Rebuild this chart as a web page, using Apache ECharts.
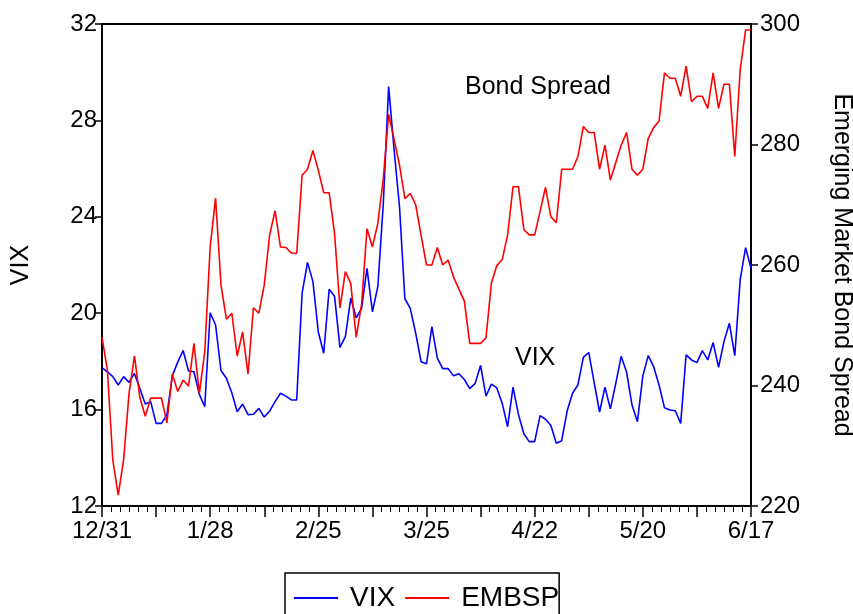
<!DOCTYPE html>
<html>
<head>
<meta charset="utf-8">
<script src="https://cdn.jsdelivr.net/npm/echarts@6/dist/echarts.min.js"></script>
<style>
  html, body { margin: 0; padding: 0; background: #fff; }
  #chart { width: 853px; height: 614px; }
</style>
</head>
<body>
<div id="chart"></div>
<script>
// x tick labels, one every 20 trading days
var tickLabels = ['12/31', '1/28', '2/25', '3/25', '4/22', '5/20', '6/17'];

// VIX, daily (left axis)
var vix = [
  17.74, 17.57, 17.37, 17.02, 17.37, 17.13, 17.5, 16.88, 16.23, 16.33,
  15.43, 15.43, 15.78, 17.4, 17.97, 18.45, 17.6, 17.57, 16.63, 16.12,
  20.02, 19.51, 17.62, 17.3, 16.7, 15.91, 16.23, 15.79, 15.81, 16.05,
  15.69, 15.94, 16.33, 16.68, 16.56, 16.4, 16.4, 20.83, 22.11, 21.31,
  19.21, 18.34, 20.99, 20.7, 18.58, 19.03, 20.63, 19.81, 20.2, 21.86,
  20.06, 21.1, 24.5, 29.4, 26.8, 24.45, 20.6, 20.2, 19.17, 17.99,
  17.9, 19.44, 18.14, 17.7, 17.7, 17.4, 17.49, 17.25, 16.87, 17.09,
  17.83, 16.56, 17.06, 16.9, 16.26, 15.29, 16.93, 15.8, 15.0, 14.67,
  14.67, 15.75, 15.6, 15.34, 14.6, 14.71, 15.94, 16.68, 17.03, 18.17,
  18.37, 17.12, 15.9, 16.93, 16.03, 17.09, 18.21, 17.55, 16.19, 15.5,
  17.4, 18.24, 17.78, 17.02, 16.08, 15.98, 15.95, 15.43, 18.27, 18.06,
  17.95, 18.45, 18.06, 18.78, 17.75, 18.82, 19.58, 18.24, 21.38, 22.72,
  21.86
];

// emerging market bond spread, daily (right axis)
var embsp = [
  248.0, 242.5, 227.6, 221.8, 227.7, 238.7, 244.9, 238.0, 234.9, 237.9,
  237.9, 237.9, 233.8, 241.9, 239.0, 240.9, 239.9, 247.0, 238.7, 245.6,
  263.0, 271.1, 256.7, 251.0, 252.0, 244.9, 248.9, 241.9, 252.9, 252.0,
  256.7, 265.0, 269.0, 263.0, 262.9, 262.0, 261.9, 274.9, 275.9, 279.0,
  275.7, 272.0, 272.0, 265.2, 252.9, 258.9, 256.9, 248.0, 253.5, 266.0,
  263.0, 266.9, 274.2, 285.0, 280.9, 276.6, 271.0, 271.9, 270.0, 264.9,
  260.0, 260.0, 262.9, 260.0, 260.8, 258.0, 256.0, 254.0, 247.0, 247.0,
  247.0, 247.9, 257.0, 259.9, 260.9, 265.0, 273.0, 273.0, 265.9, 265.0,
  265.0, 268.9, 272.9, 268.0, 267.0, 275.9, 275.9, 275.9, 278.0, 283.0,
  282.0, 282.0, 275.9, 279.9, 274.1, 277.0, 279.9, 282.0, 275.9, 274.9,
  275.9, 281.0, 282.8, 283.9, 291.9, 291.0, 291.0, 288.0, 293.0, 287.1,
  288.0, 288.0, 286.0, 291.9, 286.0, 290.0, 290.0, 278.0, 292.4, 299.0,
  299.0
];

var FONT = 'Liberation Sans';

function toPairs(arr) {
  var out = [];
  for (var i = 0; i < arr.length; i++) {
    out.push([i, arr[i]]);
  }
  return out;
}

var chart = echarts.init(document.getElementById('chart'));

var option = {
  animation: false,
  backgroundColor: '#fff',
  textStyle: { fontFamily: FONT, color: '#000' },
  grid: {
    left: 102, right: 102, top: 24, bottom: 108,
    containLabel: false, outerBoundsMode: 'none',
    show: true, borderColor: '#000', borderWidth: 2
  },
  xAxis: {
    type: 'value',
    min: 0, max: 120, interval: 10,
    splitLine: { show: false },
    axisLine: { lineStyle: { color: '#000', width: 2 } },
    axisTick: { length: 11, lineStyle: { color: '#000', width: 1.5 } },
    minorTick: { show: true, splitNumber: 6, length: 6, lineStyle: { color: '#000', width: 1 } },
    axisLabel: {
      margin: 13, fontSize: 24, fontFamily: FONT, color: '#000',
      formatter: function (v) {
        return v % 20 === 0 ? tickLabels[v / 20] : '';
      }
    }
  },
  yAxis: [{
    type: 'value',
    min: 12, max: 32, interval: 4,
    name: 'VIX', nameLocation: 'middle', nameRotate: 90, nameGap: 68,
    nameTextStyle: { fontSize: 25, fontFamily: FONT, color: '#000' },
    splitLine: { show: false },
    axisLine: { show: true, lineStyle: { color: '#000', width: 2 } },
    axisTick: { show: true, length: 7, lineStyle: { color: '#000', width: 1.5 } },
    axisLabel: { margin: 5, fontSize: 24, fontFamily: FONT, color: '#000' }
  }, {
    type: 'value',
    min: 220, max: 300, interval: 20,
    name: 'Emerging Market Bond Spread', nameLocation: 'middle', nameRotate: -90, nameGap: 78,
    nameTextStyle: { fontSize: 25, fontFamily: FONT, color: '#000' },
    splitLine: { show: false },
    axisLine: { show: true, lineStyle: { color: '#000', width: 2 } },
    axisTick: { show: true, length: 7, lineStyle: { color: '#000', width: 1.5 } },
    axisLabel: { margin: 9, fontSize: 24, fontFamily: FONT, color: '#000' }
  }],
  legend: {
    left: 285, top: 573,
    data: ['VIX', 'EMBSP'],
    orient: 'horizontal',
    borderColor: '#000', borderWidth: 1.5,
    padding: [11, 0, 12, 9],
    itemGap: 10,
    itemWidth: 44, itemHeight: 2,
    icon: 'rect',
    textStyle: { fontSize: 28, fontFamily: FONT, color: '#000', padding: [0, 0, 0, 7] }
  },
  graphic: [{
    type: 'text', left: 465, top: 75,
    style: { text: 'Bond Spread', fontSize: 25, fontFamily: FONT, fill: '#000' }
  }, {
    type: 'text', left: 515, top: 346,
    style: { text: 'VIX', fontSize: 25, fontFamily: FONT, fill: '#000' }
  }],
  series: [{
    name: 'VIX', type: 'line', yAxisIndex: 0,
    data: toPairs(vix),
    symbol: 'none',
    lineStyle: { color: '#0000ff', width: 1.6 },
    itemStyle: { color: '#0000ff' }
  }, {
    name: 'EMBSP', type: 'line', yAxisIndex: 1,
    data: toPairs(embsp),
    symbol: 'none',
    lineStyle: { color: '#ff0000', width: 1.6 },
    itemStyle: { color: '#ff0000' }
  }]
};

chart.setOption(option);
</script>
</body>
</html>
